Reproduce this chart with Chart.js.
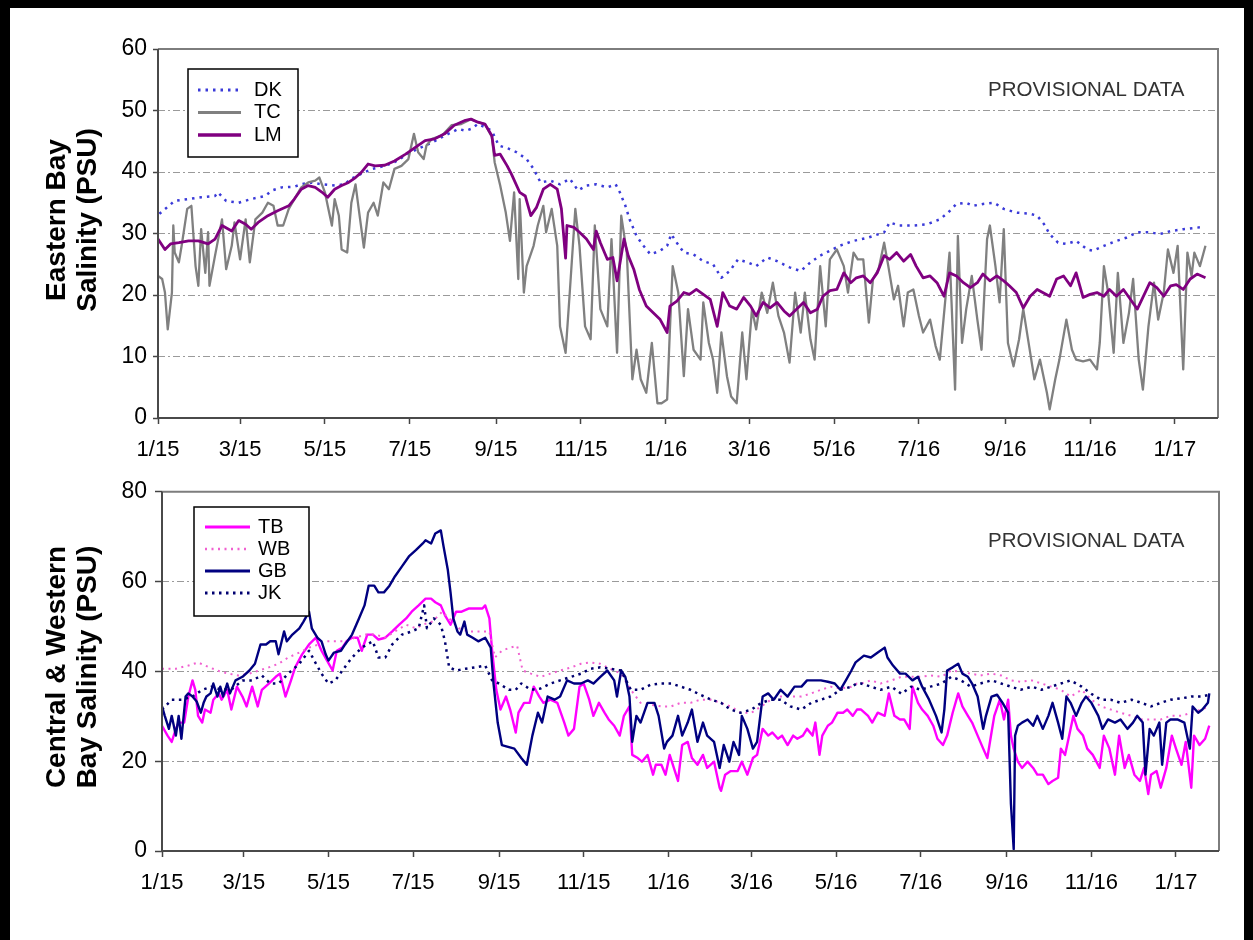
<!DOCTYPE html>
<html>
<head>
<meta charset="utf-8">
<script src="https://cdn.jsdelivr.net/npm/chart.js@4"></script>
<style>
  html, body { margin: 0; padding: 0; background: #fff; }
  #frame {
    position: absolute; left: 0; top: 0; width: 1253px; height: 940px; box-sizing: border-box;
    border-top: 8px solid #000; border-left: 10px solid #000; border-right: 9px solid #000;
  }
  .panel { position: absolute; left: 0; width: 1253px; height: 470px; }
</style>
</head>
<body>
<div id="frame"></div>
<div class="panel" style="top:0"><canvas id="eastern" width="1253" height="470"></canvas></div>
<div class="panel" style="top:470px"><canvas id="western" width="1253" height="470"></canvas></div>
<script>
// x axis: days since 1/1/2015, ticks every two months
const monthTickDays = [0, 59, 120, 181, 243, 304, 365, 425, 486, 547, 609, 670, 731];
const monthTickLabels = ["1/15", "3/15", "5/15", "7/15", "9/15", "11/15", "1/16", "3/16", "5/16", "7/16", "9/16", "11/16", "1/17"];
const lastDay = 762;

// ---- Eastern Bay (PSU) ----
const dkDay = [1,12,22,31,41,43,49,58,67,77,82,89,98,103,110,118,127,134,139,146,154,163,170,178,187,197,206,216,221,225,230,235,240,245,252,
  258,265,270,275,282,289,296,302,308,315,323,329,332,336,339,344,349,354,361,366,369,372,378,385,392,399,405,411,417,424,430,438,445,454,462,469,476,483,490,500,
  510,522,526,533,543,553,562,568,574,581,586,593,601,608,617,627,632,637,641,647,653,660,668,672,680,689,696,704,713,720,728,737,749];
const dkPsu = [33.2,35.3,35.6,35.9,36.1,36.7,35.3,35,35.6,36.1,37,37.5,37.6,38,38.3,38,37.8,38,38.9,39.7,40.5,41,41.6,42.7,43.8,44.8,45.9,47,46.7,47,47.8,47.3,46.7,44.3,43.8,
  43.2,42.1,40.5,38.3,38.6,38,38.9,37,37.8,38,37.5,38,36.7,34.5,32.3,29.6,28,26.6,27.2,28,29.9,28.8,26.9,26.6,25.5,25,22.8,23.9,25.8,25.3,24.7,26.1,25.5,24.5,23.9,25.3,26.4,27.2,28,28.8,
  29.3,30.2,31.8,31.3,31.3,31.5,32.3,33.4,34.8,35,34.5,34.8,35,34,33.4,33.2,32.9,31.5,29.9,28.5,28.3,28.8,27.4,27.2,28,28.8,29.3,30.2,30.2,29.9,30.4,30.7,31];

const tcDay = [0,3,5,7,10,11,12,15,17,21,24,27,29,31,34,36,37,41,46,49,53,55,59,63,66,70,75,79,83,86,90,94,98,103,108,113,116,120,122,125,
  127,130,132,136,139,142,144,148,151,155,158,162,166,170,175,180,184,187,191,193,197,204,211,218,225,230,235,240,242,
  246,250,253,256,259,260,263,265,270,273,277,279,283,287,289,293,296,300,303,307,311,314,318,323,326,330,333,337,341,344,
  347,351,355,359,362,366,368,370,374,378,381,385,390,392,396,399,402,405,409,412,416,420,423,427,430,434,438,442,446,450,
  454,458,462,465,469,472,476,480,483,488,493,496,500,503,
  507,511,514,518,522,525,529,532,536,539,543,547,550,555,559,562,566,569,573,575,578,581,585,589,592,596,598,602,605,608,
  611,615,619,622,627,630,634,639,641,645,648,653,657,660,665,670,675,677,680,683,687,690,694,698,701,705,708,712,716,719,
  723,726,730,733,737,740,743,745,749,753];
const tcPsu = [23.1,22.6,20.4,14.4,20.4,31.3,26.9,25.3,28,34,34.5,24.7,21.5,30.7,23.6,30.2,21.5,26.4,32.3,24.2,28,31.8,25.8,32.3,25.3,32.3,33.4,35,34.5,31.3,31.3,34,35.6,37.5,38.3,38.6,39.1,36.7,34.5,31.3,
  35.6,32.9,27.4,26.9,35,38,34.5,27.7,33.4,35,32.9,38.3,37.2,40.5,41,42.1,46.2,43.2,42.1,44.3,45.4,45.9,47.6,47.8,48.6,48.1,47.8,45.7,41.6,
  37.8,33.4,28.8,36.7,22.6,35.6,20.4,24.7,28,31.3,34.5,30.2,34,28,14.9,10.6,20.4,34,28,14.9,12.8,31.3,17.7,14.9,29.1,10.6,32.9,26.9,6.3,11.1,
  6.3,4.1,12.2,2.4,2.4,3,14.4,24.7,20.4,6.8,17.7,11.1,9.5,18.8,12.2,9.5,4.1,13.9,6.8,3.5,2.4,13.9,6.3,17.7,14.4,20.4,17.1,22,16.6,13.9,
  9,20.4,13.9,20.4,12.8,9.5,24.7,14.9,25.8,27.4,24.7,20.4,26.9,25.8,
  25.8,15.5,22.6,24.2,28.5,24.7,19.3,21.5,14.9,20.4,20.9,16.6,13.9,16,11.7,9.5,19.3,26.9,4.6,29.6,12.2,17.7,23.1,16,11.1,29.1,31.3,24.7,18.8,30.7,
  12.2,8.4,12.8,17.7,10.6,6.3,9.5,4.1,1.4,6.3,9.5,16,11.1,9.5,9.2,9.5,7.9,12.2,24.7,20.4,10.6,23.6,12.2,17.1,22.6,9.5,4.6,14.9,22,16,
  20.4,27.4,23.6,28,7.9,26.9,23.1,26.9,24.7,28];

const lmDay = [0,5,9,15,22,29,36,41,46,53,58,63,67,72,79,86,94,98,103,108,113,118,122,127,132,137,142,146,151,156,163,170,178,185,192,199,206,213,221,225,230,235,240,242,
  246,251,254,260,264,268,272,277,282,287,290,293,294,299,303,308,313,315,318,323,327,330,335,338,342,346,351,356,361,366,
  368,373,378,382,387,392,397,402,406,411,416,421,426,430,435,440,445,450,454,459,464,469,474,478,483,488,493,498,502,
  507,512,517,522,526,531,536,541,545,550,555,560,565,569,574,579,584,589,593,598,603,608,612,617,622,627,632,636,641,646,
  651,656,660,665,670,675,680,684,689,694,699,704,708,713,718,723,728,732,737,742,747,753];
const lmPsu = [29.1,27.4,28.3,28.5,28.8,28.8,28.3,29.1,31.3,30.4,32.1,31.5,30.7,31.8,32.9,33.7,34.5,35.6,37.2,37.8,37.5,36.7,35.9,37.2,37.8,38.3,39.1,39.9,41.3,41,41.1,41.8,42.9,44,45.1,45.4,46.2,47.6,48.4,48.6,48.1,47.8,45.9,42.7,
  42.9,41,39.7,36.7,36.1,32.9,34.2,37.2,38,37.2,34,26,31.3,31,30.2,29.1,27.4,30.4,28.5,25.8,26.1,22.3,29.1,26.4,24.2,20.9,18.2,17.1,16,13.9,
  18.2,19,20.4,20.1,20.9,20.1,19.3,14.9,20.4,18.2,17.7,19.6,18.2,16.6,18.8,17.9,18.8,17.4,16.6,17.7,18.8,17.1,17.7,19.8,20.7,20.9,23.6,22,22.8,
  23.1,22,23.6,26.4,25.8,26.9,25.5,26.6,24.7,22.8,23.1,22,19.8,23.6,23.1,22,21.2,22,23.4,22.3,23.1,22.3,21.5,20.4,17.9,19.8,20.9,20.4,19.8,22.6,
  23.1,21.5,23.6,19.6,20.1,20.4,19.8,20.9,19.8,20.9,19.3,17.7,19.6,22,21.2,19.8,21.5,21.7,20.9,22.6,23.4,22.8];

// ---- Central & Western Bay (PSU) ----
const tbDay = [0,4,7,10,12,16,19,22,24,26,29,31,35,37,41,43,47,50,54,58,61,65,69,72,77,82,85,89,93,96,101,106,111,115,119,123,126,130,133,137,
  141,144,148,152,156,161,166,171,176,180,185,190,194,197,201,204,208,212,216,221,226,231,233,236,238,241,244,
  248,251,255,257,261,265,268,272,275,280,285,290,293,297,301,304,308,311,315,319,322,326,330,333,337,339,343,346,350,354,
  356,360,363,366,369,372,375,379,382,386,390,393,398,402,403,406,410,415,418,422,426,429,433,437,440,444,447,451,455,458,
  462,465,469,471,474,476,480,483,487,491,494,498,501,
  504,509,512,516,521,524,528,532,535,539,541,545,548,552,556,559,563,566,570,574,577,581,584,588,592,595,598,600,604,607,
  610,612,614,617,620,624,628,631,635,639,642,646,648,651,654,657,660,664,667,671,676,679,683,687,690,694,697,701,705,708,
  711,713,717,720,724,728,731,735,738,742,744,748,752,755];
const tbPsu = [27.9,25.7,24.3,27.2,28.6,28.6,34.4,38,35.9,30.1,28.6,31.5,30.8,33.7,35.1,33.7,35.9,31.5,36.6,34.4,32.2,36.6,32.2,35.9,37.3,38.8,39.5,34.4,38,40.9,43.8,46,47.5,44.6,42.4,40.2,44.6,45.3,46.7,47.5,
  47.5,44.6,48.2,48.2,47.1,47.5,48.9,50.4,51.8,53.3,54.7,56.2,56.2,55.4,54.7,52.5,50.4,53.3,53.3,54,54,54,54.7,51.8,44.6,35.9,31.5,
  34.4,31.5,26.4,30.8,33,33,36.6,34.4,33,33.7,33,28.6,25.7,27.2,36.6,37.3,33.7,30.1,33,30.8,29.3,27.9,25.7,30.1,32.2,21.4,20.7,19.9,21.4,17,
  19.2,19.2,17,21.4,18.5,15.6,23.6,24.3,20.7,19.2,21.4,18.5,19.9,14.1,13.4,17,17.8,17.8,19.9,17,20.7,21.4,27.2,25.7,26.4,25,25.7,23.6,25.7,25,
  25.7,27.2,25.7,28.6,21.4,25.7,27.9,28.6,30.8,30.8,31.5,30.1,31.5,
  31.5,30.1,28.6,30.8,30.1,35.1,30.1,29.3,29.3,27.2,36.6,33,31.5,30.1,27.9,25,23.6,25.7,30.8,35.1,32.2,30.1,28.6,25.7,22.8,20.7,26.4,30.1,33.7,29.3,
  33.7,25.7,22.8,19.9,18.5,19.9,18.5,17,17,14.9,15.6,16.3,22.8,21.4,25.7,30.1,27.2,25.7,22.8,21.4,18.5,25.7,22.8,17,25.7,18.5,21.4,17,15.6,18.5,
  12.7,17,17.8,14.1,18.5,25.7,22.8,19.2,24.3,14.1,25.7,23.6,25,27.9];

const wbDay = [0,10,19,26,34,41,48,55,63,70,77,84,91,99,106,113,118,125,132,139,147,154,161,168,176,183,188,195,202,207,214,221,228,236,240,245,
  251,256,260,266,273,280,287,295,302,309,316,323,331,338,345,352,360,367,374,381,388,396,403,410,417,425,432,439,446,453,461,468,475,482,489,497,501,
  504,511,518,526,533,540,547,554,562,569,576,583,590,598,605,612,619,627,634,641,648,655,663,670,677,684,691,699,706,713,720,727,735,742,749,755];
const wbPsu = [40.6,40.6,41.3,42,40.9,40.1,39.5,39.1,39.5,40.2,40.9,41.7,43.1,44.2,45.3,46,46.7,46.7,46.7,47.5,48.2,48.2,47.5,48.9,50.4,49.6,50.4,51.1,53.3,51.8,49.6,48.9,48.9,48.9,43.1,44.6,
  45.3,45.7,40.2,39.5,38.8,39.5,40.2,40.9,41.7,42,41.7,40.6,39.5,35.9,33,32.6,32.2,32.2,33,33,33.7,33.7,33,32.2,30.8,30.8,32.2,33.7,34.4,34.4,34.4,35.1,35.9,36.6,36.2,36.6,37.3,
  37.3,38,37.3,38,38.8,38.8,38.8,39.1,38.8,40.2,39.9,39.5,39.1,39.5,39.1,38,37.7,38,37.3,36.6,35.9,34.4,35.9,33.7,32.2,31.5,30.8,30.1,29.3,29.3,29.3,30.1,30.1,30.8,31.5,32.2];

const gbDay = [0,2,5,7,10,12,14,17,19,22,25,28,30,32,35,37,40,42,44,47,49,53,58,63,67,71,75,78,82,84,88,90,94,99,102,106,108,112,115,118,
  120,124,129,132,137,142,146,149,153,156,160,164,168,173,178,183,188,190,194,197,201,203,206,208,210,213,215,218,220,224,228,233,237,239,242,245,
  254,259,263,267,271,274,278,283,287,292,297,302,307,311,316,321,326,328,331,334,337,339,342,345,350,355,358,362,364,368,
  372,375,379,382,386,390,393,398,402,405,409,412,416,418,422,426,429,433,437,441,446,451,456,461,465,470,475,480,485,489,493,497,500,
  506,511,516,521,523,527,532,536,541,545,548,553,558,562,564,566,570,574,577,581,584,588,592,594,598,602,606,610,612,614,
  615,617,620,624,628,631,635,639,642,646,649,652,655,659,663,666,670,675,678,682,687,691,696,700,703,707,709,712,715,719,
  721,724,727,732,737,741,743,747,750,754,755];
const gbPsu = [32.2,30.1,27.2,30.1,25.7,30.1,25,34.4,35.1,34.4,33.3,30.8,33,34.4,35.1,37.3,34.4,36.6,34.4,37.3,35.1,38,38.8,40.2,41.7,46,46,46.7,46.7,43.8,48.9,46.7,48.2,49.6,51.1,53.3,49.6,47.5,46.7,43.8,
  42.4,44.2,44.6,46,48.2,51.8,54.7,59.1,59.1,57.6,57.6,59.1,61.2,63.4,65.6,67,68.5,69.2,68.5,70.7,71.4,67.8,62.7,57.6,51.8,48.9,48.2,51.1,48.2,47.5,46.7,47.5,45.3,37.3,28.6,23.6,
  22.8,20.7,19.2,25.7,30.8,28.6,34.4,33.7,34.4,38,37.3,37.3,38,37.3,38.8,40.2,38,34.4,40.2,38.8,34.4,24.3,30.1,28.6,33,33,30.1,22.8,24.3,25.7,
  30.1,25.7,28.6,31.5,24.3,28.6,25.7,24.3,18.5,23.6,19.9,24.3,21.4,30.1,27.2,22.8,24.3,34.4,35.1,33.7,35.9,34.4,36.6,36.6,38,38,38,37.7,37.3,35.9,38,40.2,42,
  43.5,43.1,44.2,45.3,43.1,41.3,39.5,39.5,38,38.8,36.6,33.7,30.1,26.4,31.5,40.2,40.9,41.7,39.5,38.8,37.3,34.4,27.2,30.1,34.4,34.8,33,30.8,10.5,0.4,
  25.7,27.9,28.6,29.3,27.9,30.1,27.2,30.1,33,28.6,25,34.4,33,30.1,33,34.4,33,30.1,27.2,29.3,28.6,29.3,27.2,28.6,30.1,28.6,17,27.2,25.7,28.6,
  19.2,28.6,29.3,29.3,28.6,22.8,32.2,30.8,31.5,33,35.1];

const jkDay = [0,7,14,22,29,36,43,51,58,65,72,78,84,91,99,106,111,115,120,125,130,137,144,152,156,161,166,173,180,185,189,191,196,201,204,207,212,219,226,233,238,243,250,255,
  259,266,273,280,287,295,302,309,316,323,331,338,345,352,360,367,374,381,388,396,403,410,417,425,432,439,446,453,461,468,475,482,489,497,501,
  504,511,518,526,533,540,547,554,562,569,576,583,590,598,605,612,619,627,634,641,648,655,663,670,677,684,691,699,706,713,720,727,735,742,749,755];
const jkPsu = [31.5,33.7,33.7,34.4,35.9,36.6,35.9,36.2,38,38,39.1,37.3,37.3,39.5,41.7,44.6,41.7,39.5,37.3,38,40.2,43.1,45.3,46.7,43.1,43.1,46,48.2,48.9,49.6,54.7,49.6,51.8,50.4,46.7,40.9,40.2,40.6,40.9,41.3,38,37.3,35.9,35.9,
  37.3,35.9,36.2,37.3,38,38.8,39.5,40.6,40.9,40.6,40.2,35.9,35.9,37,37.3,37.3,36.6,35.9,34.8,33.7,33,31.5,30.8,31.5,33,33.7,33.7,32.2,31.5,33,33.7,34.4,35.9,36.6,37.3,
  37.3,36.6,35.9,36.6,35,36.6,35.9,36.6,37.3,38.8,38,36.6,37.3,38,37.3,36.6,35.9,36.6,35.9,36.6,37.3,38,36.6,35,33.7,33.7,33,33.7,33,32.2,33,33.7,34,34.4,34.4,34.8];

const FONT = "'Liberation Sans', Arial, Helvetica, sans-serif";
Chart.defaults.font.family = FONT;
Chart.defaults.color = "#000";

const pts = (days, vals) => days.map((d, i) => ({ x: d, y: vals[i] }));

// frame, rotated axis title, note and legend box drawn onto the canvas
const decor = {
  id: "decor",
  afterDraw(chart, args, o) {
    const { ctx, chartArea: a } = chart;
    ctx.save();
    ctx.lineWidth = 2;
    ctx.strokeStyle = "#7d7d7d";
    ctx.beginPath();
    ctx.moveTo(a.left, a.top);
    ctx.lineTo(a.right, a.top);
    ctx.lineTo(a.right, a.bottom);
    ctx.stroke();
    ctx.strokeStyle = "#4a4a4a";
    ctx.beginPath();
    ctx.moveTo(a.left, a.top);
    ctx.lineTo(a.left, a.bottom);
    ctx.lineTo(a.right, a.bottom);
    ctx.stroke();

    ctx.fillStyle = "#000";
    ctx.font = "bold 28px " + FONT;
    ctx.textAlign = "center";
    ctx.textBaseline = "middle";
    o.title.forEach((line, i) => {
      ctx.save();
      ctx.translate(o.titleX[i], o.titleY);
      ctx.rotate(-Math.PI / 2);
      ctx.fillText(line, 0, 0);
      ctx.restore();
    });

    ctx.fillStyle = "#333";
    ctx.font = "20.5px " + FONT;
    ctx.textAlign = "left";
    ctx.fillText(o.note, o.noteX, o.noteY);

    const b = o.legend;
    ctx.fillStyle = "#fff";
    ctx.fillRect(b.x, b.y, b.w, b.h);
    ctx.strokeStyle = "#000";
    ctx.lineWidth = 1.5;
    ctx.strokeRect(b.x, b.y, b.w, b.h);
    ctx.font = "20px " + FONT;
    chart.data.datasets.forEach((ds, i) => {
      const y = b.row0 + i * b.step;
      ctx.strokeStyle = ds.borderColor;
      ctx.lineWidth = ds.borderWidth + 0.5;
      ctx.setLineDash(ds.borderDash || []);
      ctx.beginPath();
      ctx.moveTo(b.x1, y);
      ctx.lineTo(b.x2, y);
      ctx.stroke();
      ctx.setLineDash([]);
      ctx.fillStyle = "#000";
      ctx.fillText(ds.label, b.tx, y);
    });
    ctx.restore();
  }
};

function makeChart(id, datasets, yMax, yStep, geo, decorOpts) {
  return new Chart(document.getElementById(id), {
    type: "line",
    data: { datasets },
    options: {
      responsive: false,
      animation: false,
      devicePixelRatio: 1,
      layout: { padding: { left: 0, top: geo.top, right: geo.right, bottom: 0 } },
      elements: { point: { radius: 0 }, line: { tension: 0, borderJoinStyle: "round" } },
      plugins: { legend: { display: false }, tooltip: { enabled: false }, decor: decorOpts },
      scales: {
        x: {
          type: "linear",
          min: 0,
          max: lastDay,
          afterFit: (s) => { s.height = geo.xHeight; },
          afterBuildTicks: (s) => { s.ticks = monthTickDays.map((v) => ({ value: v })); },
          ticks: {
            autoSkip: false,
            maxRotation: 0,
            padding: 13,
            font: { size: 22 },
            callback: (v, i) => monthTickLabels[i]
          },
          grid: { drawOnChartArea: false, drawTicks: true, tickLength: 6, tickColor: "#444", tickWidth: 1.5 },
          border: { display: false }
        },
        y: {
          min: 0,
          max: yMax,
          afterFit: (s) => { s.width = geo.yWidth; },
          ticks: { stepSize: yStep, padding: geo.yPad, font: { size: 23 } },
          grid: { color: "#9a9a9a", lineWidth: 1, tickLength: geo.yTick, tickColor: "#444", tickWidth: 1.5 },
          border: { display: false, dash: [7, 3, 2, 3] }
        }
      }
    },
    plugins: [decor]
  });
}

makeChart("eastern", [
  { label: "DK", data: pts(dkDay, dkPsu), borderColor: "#3a3ad8", borderWidth: 2.5, borderDash: [2.5, 5], order: 3 },
  { label: "TC", data: pts(tcDay, tcPsu), borderColor: "#808080", borderWidth: 2.3, order: 2 },
  { label: "LM", data: pts(lmDay, lmPsu), borderColor: "#800080", borderWidth: 2.8, order: 1 }
], 60, 10,
  { top: 49, right: 35, xHeight: 52, yWidth: 158, yPad: 6, yTick: 5 },
  { title: ["Eastern Bay", "Salinity (PSU)"], titleX: [57, 88], titleY: 220,
    note: "PROVISIONAL DATA", noteX: 988, noteY: 90,
    legend: { x: 188, y: 69, w: 110, h: 88, row0: 90, step: 22.5, x1: 198, x2: 241, tx: 254 } });

makeChart("western", [
  { label: "TB", data: pts(tbDay, tbPsu), borderColor: "#ff00ff", borderWidth: 2.4, order: 4 },
  { label: "WB", data: pts(wbDay, wbPsu), borderColor: "#f060d0", borderWidth: 2, borderDash: [2, 4.5], order: 3 },
  { label: "GB", data: pts(gbDay, gbPsu), borderColor: "#000080", borderWidth: 2.4, order: 2 },
  { label: "JK", data: pts(jkDay, jkPsu), borderColor: "#000070", borderWidth: 2.5, borderDash: [2.5, 4.5], order: 1 }
], 80, 20,
  { top: 14, right: 34, xHeight: 89, yWidth: 162, yPad: 8, yTick: 7 },
  { title: ["Central & Western", "Bay Salinity (PSU)"], titleX: [57, 88], titleY: 197,
    note: "PROVISIONAL DATA", noteX: 988, noteY: 71,
    legend: { x: 194, y: 37, w: 115, h: 109, row0: 57, step: 22, x1: 205, x2: 250, tx: 258 } });
</script>
</body>
</html>
